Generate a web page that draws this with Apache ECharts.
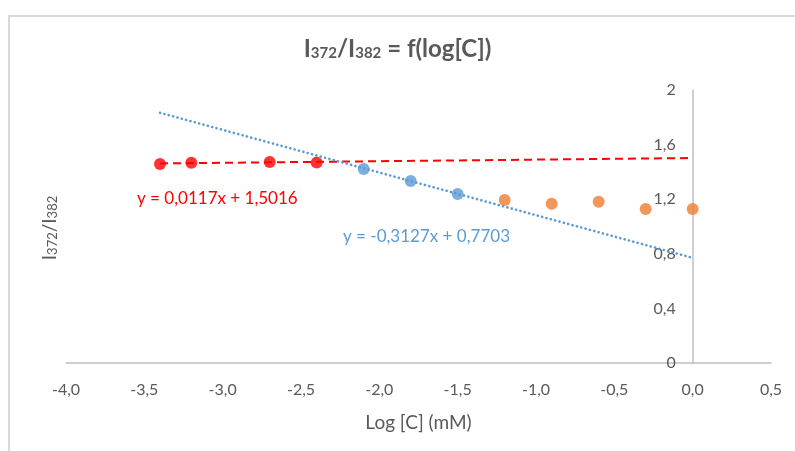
<!DOCTYPE html>
<html><head><meta charset="utf-8">
<script src="https://cdn.jsdelivr.net/npm/echarts@6/dist/echarts.min.js"></script>
<style>html,body{margin:0;padding:0;background:#fff}#c{width:795px;height:451px}</style>
</head><body><div id="c"></div>
<script>
const redX = [-3.4, -3.2, -2.7, -2.4];
const redY = [1.458, 1.467, 1.473, 1.468];
const blueX = [-2.1, -1.8, -1.5];
const blueY = [1.422, 1.334, 1.238];
const orangeX = [-1.2, -0.9, -0.6, -0.3, 0.0];
const orangeY = [1.194, 1.167, 1.182, 1.128, 1.128];
const redTrendX = [-3.4, 0.0];
const redTrendY = [1.462, 1.5016];
const blueTrendX = [-3.4, 0.0];
const blueTrendY = [1.833, 0.7703];
const xTickLabels = ['-4,0','-3,5','-3,0','-2,5','-2,0','-1,5','-1,0','-0,5','0,0','0,5'];
const yTickLabels = ['0','0,4','0,8','1,2','1,6','2'];
const redEq = 'y = 0,0117x + 1,5016';
const blueEq = 'y = -0,3127x + 0,7703';

const zip = (xs, ys) => xs.map((x, i) => [x, ys[i]]);
const FONT = 'Lato';
const GRAY = '#595959';
const GRID_LEFT = 66;

const chart = echarts.init(document.getElementById('c'), null, {renderer: 'canvas'});
chart.setOption({
  backgroundColor: '#fff',
  animation: false,
  textStyle: {fontFamily: FONT},
  title: {
    text: '{m|I}{s|372}{m|/I}{s|382}{m| = f(log[C])}',
    left: 'center', top: 28,
    textStyle: {
      rich: {
        m: {fontFamily: FONT, fontSize: 24, fontWeight: 'bold', color: GRAY, lineHeight: 28, verticalAlign: 'bottom'},
        s: {fontFamily: FONT, fontSize: 15, fontWeight: 'bold', color: GRAY, lineHeight: 15, verticalAlign: 'bottom'}
      }
    }
  },
  grid: {left: GRID_LEFT, right: 24, top: 90, bottom: 88},
  xAxis: {
    type: 'value', min: -4, max: 0.5, interval: 0.5,
    name: 'Log [C] (mM)', nameLocation: 'middle', nameGap: 50,
    nameTextStyle: {color: GRAY, fontSize: 19, fontFamily: FONT},
    axisLine: {show: true, onZero: false, lineStyle: {color: '#BFBFBF', width: 1.5}},
    axisTick: {show: false},
    splitLine: {show: false},
    axisLabel: {color: GRAY, fontSize: 16, fontFamily: FONT, margin: 19,
      formatter: (v, i) => xTickLabels[i]}
  },
  yAxis: {
    type: 'value', min: 0, max: 2, interval: 0.4,
    axisLine: {show: true, onZero: false, lineStyle: {color: '#BFBFBF', width: 1.5}},
    axisTick: {show: false},
    splitLine: {show: false},
    axisLabel: {color: GRAY, fontSize: 16, fontFamily: FONT, margin: 17,
      formatter: (v, i) => yTickLabels[i]}
  },
  series: [
    {type: 'scatter', data: zip(redX, redY), symbolSize: 12, itemStyle: {color: '#FF0000'}, z: 3},
    {type: 'scatter', data: zip(blueX, blueY), symbolSize: 12, itemStyle: {color: '#5B9BD5'}, z: 3},
    {type: 'scatter', data: zip(orangeX, orangeY), symbolSize: 12, itemStyle: {color: '#ED7D31'}, z: 3},
    {type: 'line', data: zip(redTrendX, redTrendY), showSymbol: false, symbol: 'none', z: 4,
      lineStyle: {color: '#FF0000', width: 2, type: [8, 5]}},
    {type: 'line', data: zip(blueTrendX, blueTrendY), showSymbol: false, symbol: 'none', z: 4,
      lineStyle: {color: '#5B9BD5', width: 2.6, type: [0.1, 4.4], cap: 'round'}}
  ],
  graphic: [
    {type: 'line', shape: {x1: 9, y1: 15, x2: 9, y2: 451}, style: {stroke: '#D9D9D9', lineWidth: 2}, silent: true},
    {type: 'line', shape: {x1: 8, y1: 16, x2: 795, y2: 16}, style: {stroke: '#D9D9D9', lineWidth: 2}, silent: true},
    {type: 'text', left: 137, top: 190, style: {text: redEq, fill: '#FF0000', font: '17px Lato'}},
    {type: 'text', left: 343, top: 228, style: {text: blueEq, fill: '#5B9BD5', font: '17px Lato'}},
    {type: 'text', x: 48, y: 228, rotation: Math.PI / 2,
      style: {
        text: '{m|I}{s|372}{m|/I}{s|382}', align: 'center', verticalAlign: 'middle',
        rich: {
          m: {fontFamily: FONT, fontSize: 19, fill: GRAY, lineHeight: 22, verticalAlign: 'bottom'},
          s: {fontFamily: FONT, fontSize: 13, fill: GRAY, lineHeight: 13, verticalAlign: 'bottom'}
        }
      }}
  ]
});
// place the y axis (line + labels) at x = 0, using the x axis scale
const zeroPx = chart.convertToPixel({xAxisIndex: 0}, 0);
chart.setOption({yAxis: {offset: -(zeroPx - GRID_LEFT)}});
</script></body></html>
